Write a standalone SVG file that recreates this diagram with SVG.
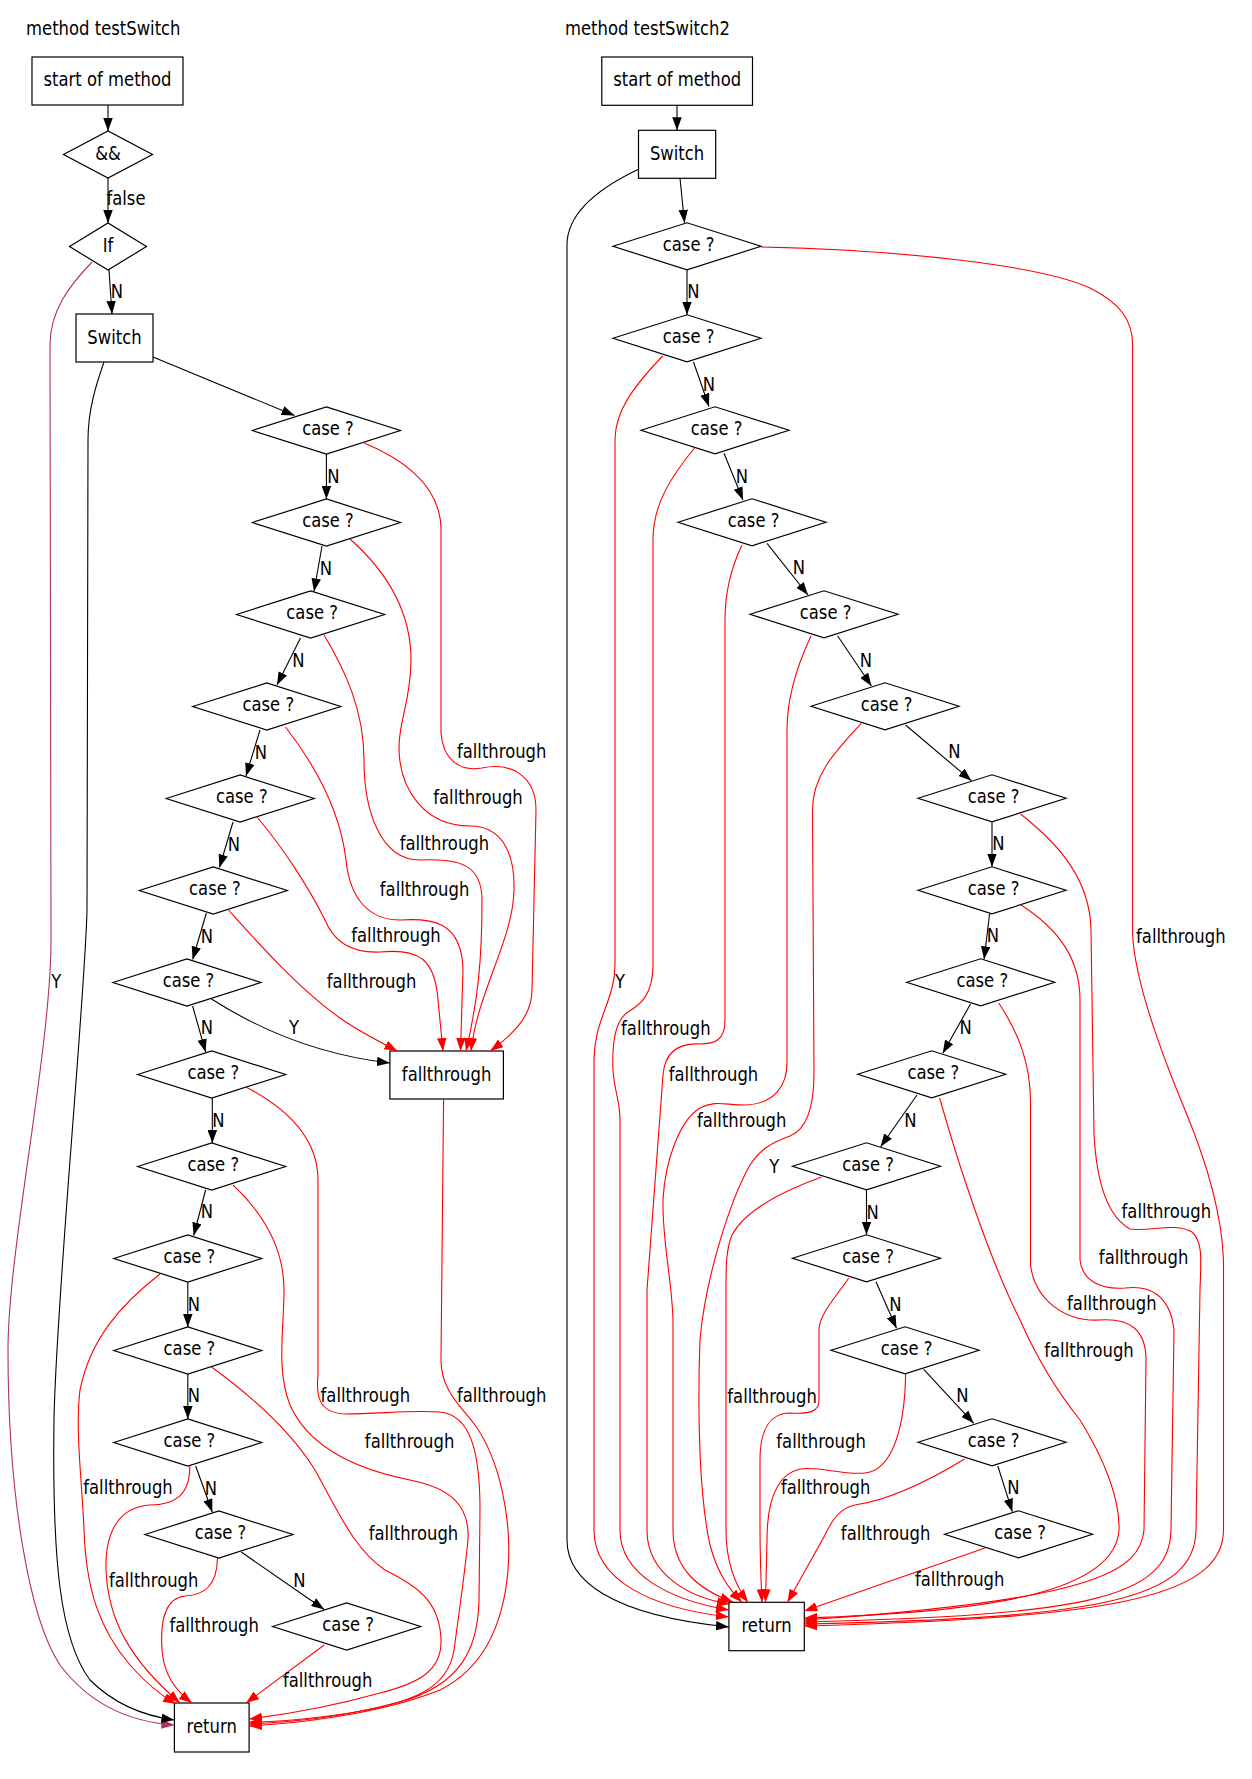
<svg xmlns="http://www.w3.org/2000/svg" width="1252" height="1779" viewBox="0 0 1252 1779">
<style>
text { font-family: "DejaVu Sans", "Liberation Sans", sans-serif; font-size: 19px; text-anchor: middle; fill: #000; transform-box: fill-box; transform-origin: center; transform: scaleX(0.865); }
.n { fill: none; stroke: #000; stroke-width: 1.2; }
.e { fill: none; stroke: #000; stroke-width: 1.1; marker-end: url(#ab); }
.r { fill: none; stroke: #ff0000; stroke-width: 1.1; marker-end: url(#ar); }
.m { fill: none; stroke: #b03060; stroke-width: 1.1; marker-end: url(#am); }
</style>
<defs>
<marker id="ab" viewBox="0 0 13 9.5" refX="13" refY="4.75" markerWidth="13" markerHeight="9.5" markerUnits="userSpaceOnUse" orient="auto"><path d="M0,0 L13,4.75 L0,9.5 z" fill="#000"/></marker>
<marker id="ar" viewBox="0 0 13 9.5" refX="13" refY="4.75" markerWidth="13" markerHeight="9.5" markerUnits="userSpaceOnUse" orient="auto"><path d="M0,0 L13,4.75 L0,9.5 z" fill="#ff0000"/></marker>
<marker id="am" viewBox="0 0 13 9.5" refX="13" refY="4.75" markerWidth="13" markerHeight="9.5" markerUnits="userSpaceOnUse" orient="auto"><path d="M0,0 L13,4.75 L0,9.5 z" fill="#b03060"/></marker>
</defs>
<rect width="1252" height="1779" fill="#fff"/>

<g id="cluster1">
<text x="103.3" y="35.5">method testSwitch</text>
<g id="L_start"><rect class="n" x="32" y="57" width="151" height="48"/><text x="107.5" y="86.5">start of method</text></g>
<g id="L_and"><polygon class="n" points="63.5,154.5 108,131 152.5,154.5 108,178"/><text x="108" y="160">&amp;&amp;</text></g>
<g id="L_if"><polygon class="n" points="69.5,246.5 108,223 146.5,246.5 108,270"/><text x="108" y="252">If</text></g>
<g id="L_switch"><rect class="n" x="76" y="314" width="77" height="48"/><text x="114.5" y="344">Switch</text></g>
<g id="L_c1"><polygon class="n" points="252.4,430.5 326.4,407 400.4,430.5 326.4,454"/><text x="328" y="435.5">case ?</text></g>
<g id="L_c2"><polygon class="n" points="252.4,522.5 326.4,499 400.4,522.5 326.4,546"/><text x="328" y="527.5">case ?</text></g>
<g id="L_c3"><polygon class="n" points="236.6,614.5 310.6,591 384.6,614.5 310.6,638"/><text x="312.2" y="619.5">case ?</text></g>
<g id="L_c4"><polygon class="n" points="192.7,706.5 266.7,683 340.7,706.5 266.7,730"/><text x="268.3" y="711.5">case ?</text></g>
<g id="L_c5"><polygon class="n" points="166.2,798.5 240.2,775 314.2,798.5 240.2,822"/><text x="241.8" y="803.5">case ?</text></g>
<g id="L_c6"><polygon class="n" points="139.3,890.5 213.3,867 287.3,890.5 213.3,914"/><text x="214.9" y="895.5">case ?</text></g>
<g id="L_c7"><polygon class="n" points="112.9,982.5 186.9,959 260.9,982.5 186.9,1006"/><text x="188.5" y="987.5">case ?</text></g>
<g id="L_c8"><polygon class="n" points="137.7,1074.5 211.7,1051 285.7,1074.5 211.7,1098"/><text x="213.3" y="1079.5">case ?</text></g>
<g id="L_c9"><polygon class="n" points="137.7,1166.5 211.7,1143 285.7,1166.5 211.7,1190"/><text x="213.3" y="1171.5">case ?</text></g>
<g id="L_c10"><polygon class="n" points="113.8,1258.5 187.8,1235 261.8,1258.5 187.8,1282"/><text x="189.4" y="1263.5">case ?</text></g>
<g id="L_c11"><polygon class="n" points="113.8,1350.5 187.8,1327 261.8,1350.5 187.8,1374"/><text x="189.4" y="1355.5">case ?</text></g>
<g id="L_c12"><polygon class="n" points="113.8,1442.5 187.8,1419 261.8,1442.5 187.8,1466"/><text x="189.4" y="1447.5">case ?</text></g>
<g id="L_c13"><polygon class="n" points="144.9,1534.5 218.9,1511 292.9,1534.5 218.9,1558"/><text x="220.5" y="1539.5">case ?</text></g>
<g id="L_c14"><polygon class="n" points="272.6,1626.5 346.6,1603 420.6,1626.5 346.6,1650"/><text x="348.2" y="1631.5">case ?</text></g>
<g id="L_fall"><rect class="n" x="389.9" y="1051" width="113.5" height="48"/><text x="446.6" y="1081">fallthrough</text></g>
<g id="L_return"><rect class="n" x="174.4" y="1703" width="74.7" height="49"/><text x="211.7" y="1733.5">return</text></g>
</g>

<g id="cluster2">
<text x="647.4" y="35.5">method testSwitch2</text>
<g id="R_start"><rect class="n" x="601.8" y="57" width="150.7" height="48.3"/><text x="677.2" y="86.5">start of method</text></g>
<g id="R_switch"><rect class="n" x="638.5" y="130.3" width="77.2" height="48"/><text x="677.1" y="160">Switch</text></g>
<g id="R_c1"><polygon class="n" points="613,246.3 687,222.8 761,246.3 687,269.8"/><text x="688.6" y="251.3">case ?</text></g>
<g id="R_c2"><polygon class="n" points="613,338.3 687,314.8 761,338.3 687,361.8"/><text x="688.6" y="343.3">case ?</text></g>
<g id="R_c3"><polygon class="n" points="641,430.3 715,406.8 789,430.3 715,453.8"/><text x="716.6" y="435.3">case ?</text></g>
<g id="R_c4"><polygon class="n" points="678,522.3 752,498.8 826,522.3 752,545.8"/><text x="753.6" y="527.3">case ?</text></g>
<g id="R_c5"><polygon class="n" points="750,614.3 824,590.8 898,614.3 824,637.8"/><text x="825.6" y="619.3">case ?</text></g>
<g id="R_c6"><polygon class="n" points="811,706.3 885,682.8 959,706.3 885,729.8"/><text x="886.6" y="711.3">case ?</text></g>
<g id="R_c7"><polygon class="n" points="918,798.3 992,774.8 1066,798.3 992,821.8"/><text x="993.6" y="803.3">case ?</text></g>
<g id="R_c8"><polygon class="n" points="918,890.3 992,866.8 1066,890.3 992,913.8"/><text x="993.6" y="895.3">case ?</text></g>
<g id="R_c9"><polygon class="n" points="906.7,982.3 980.7,958.8 1054.7,982.3 980.7,1005.8"/><text x="982.3" y="987.3">case ?</text></g>
<g id="R_c10"><polygon class="n" points="857.7,1074.3 931.7,1050.8 1005.7,1074.3 931.7,1097.8"/><text x="933.3" y="1079.3">case ?</text></g>
<g id="R_c11"><polygon class="n" points="792.5,1166.3 866.5,1142.8 940.5,1166.3 866.5,1189.8"/><text x="868.1" y="1171.3">case ?</text></g>
<g id="R_c12"><polygon class="n" points="792.5,1258.3 866.5,1234.8 940.5,1258.3 866.5,1281.8"/><text x="868.1" y="1263.3">case ?</text></g>
<g id="R_c13"><polygon class="n" points="831,1350.3 905,1326.8 979,1350.3 905,1373.8"/><text x="906.6" y="1355.3">case ?</text></g>
<g id="R_c14"><polygon class="n" points="918,1442.3 992,1418.8 1066,1442.3 992,1465.8"/><text x="993.6" y="1447.3">case ?</text></g>
<g id="R_c15"><polygon class="n" points="944.5,1534.3 1018.5,1510.8 1092.5,1534.3 1018.5,1557.8"/><text x="1020.1" y="1539.3">case ?</text></g>
<g id="R_return"><rect class="n" x="728.9" y="1602.3" width="75.4" height="48.4"/><text x="766.6" y="1632.5">return</text></g>
</g>

<g id="connectors">
<!-- left cluster -->
<path class="e" d="M108,105 L108,131"/>
<path class="e" d="M108,178 L108,223"/>
<path class="e" d="M109,270 L112,314"/>
<path class="m" d="M92,262 C70,285 50,310 50,345 L51,940 C51,1050 8,1250 8,1350 C8,1500 30,1620 60,1665 C90,1705 130,1722 174.4,1725"/>
<path class="e" d="M104,362 C96,385 88,410 88,440 L87,910 C85,1000 56,1300 54,1420 C52,1560 60,1640 90,1680 C115,1705 145,1716 174.4,1720"/>
<path class="e" d="M153,357 L294.6,415.5"/>
<path class="e" d="M326.4,454 L326.4,499"/>
<path class="e" d="M322,546 L314,591.5"/>
<path class="e" d="M300.5,638 L277,685"/>
<path class="e" d="M260,730 L246,776"/>
<path class="e" d="M233,822 L219.5,867.5"/>
<path class="e" d="M206.4,913 L192.6,959.5"/>
<path class="e" d="M192.6,1006 L205.6,1052"/>
<path class="e" d="M211.5,999 C260,1030 320,1055 389.9,1063"/>
<path class="e" d="M212.3,1098 L212.3,1143"/>
<path class="e" d="M205.6,1190 L193.7,1235.5"/>
<path class="e" d="M187.8,1282 L187.8,1327"/>
<path class="e" d="M187.8,1374 L187.8,1419"/>
<path class="e" d="M195.7,1466 L212.3,1512"/>
<path class="e" d="M241.2,1552 L324.2,1609.5"/>
<path class="r" d="M363.8,442.7 C410,462 441,490 441,530 L441,733 C443,760 460,772 482,768 C510,762 536,775 536,810 L532,990 C532,1015 515,1033 490.3,1051"/>
<path class="r" d="M350,539 C385,570 411,610 411,660 C411,700 399,720 399,747 C399,790 425,826 470,826 C500,826 515,850 514,890 C513,940 478,990 471,1051"/>
<path class="r" d="M324,635 C345,670 364,710 364,760 C364,810 380,860 420,860 C460,858 482,865 482,900 C482,960 478,1000 466,1051"/>
<path class="r" d="M285.5,727 C315,765 340,810 346,860 C350,900 370,920 400,920 C430,918 462,920 463,970 L460.5,1051"/>
<path class="r" d="M257,817 C285,850 310,890 325,920 C335,945 355,953 380,952 C420,948 435,960 438,1000 L443,1051"/>
<path class="r" d="M228.5,910 C260,945 300,990 340,1018 C360,1032 380,1042 397.4,1051"/>
<path class="r" d="M443.6,1099 L441,1360 C441,1390 460,1405 475,1425 C500,1460 512,1520 508,1570 C503,1630 480,1670 440,1690 C390,1710 320,1722 249.1,1726"/>
<path class="r" d="M246,1087 C290,1110 318,1140 318,1180 L318,1375 C316,1395 318,1413 345,1414 C380,1414 410,1410 440,1412 C470,1415 480,1450 480,1510 L479,1600 C478,1650 460,1685 400,1702 C340,1718 290,1722 249.1,1724"/>
<path class="r" d="M233,1185 C265,1215 284,1250 284,1290 C284,1330 276,1370 290,1405 C310,1450 360,1470 410,1480 C450,1488 470,1505 468,1540 C464,1580 458,1620 454,1650 C448,1690 410,1703 350,1713 C310,1719 280,1722 249.1,1722"/>
<path class="r" d="M211.5,1367 C250,1395 290,1430 315,1470 C340,1515 355,1550 385,1570 C415,1585 440,1600 441,1640 C442,1670 420,1683 380,1693 C330,1707 290,1714 249.1,1719"/>
<path class="r" d="M160,1274 C120,1305 90,1340 80,1390 C75,1430 82,1480 84,1530 C86,1590 100,1630 130,1665 C145,1682 160,1695 176,1704"/>
<path class="r" d="M189.8,1466 C190,1495 175,1505 150,1505 C120,1507 105,1530 106,1570 C108,1620 130,1660 180,1703"/>
<path class="r" d="M217.5,1558 C217,1585 205,1595 185,1596 C165,1598 160,1620 162,1650 C164,1675 175,1690 192,1703"/>
<path class="r" d="M324.2,1645 L246,1703"/>
<!-- right cluster -->
<path class="e" d="M677,105.3 L677,130.3"/>
<path class="e" d="M680,178.3 L684.5,222.8"/>
<path class="e" d="M638.5,169.3 C595,190 567,215 567,245 L567,1540 C567,1580 610,1615 728.9,1627"/>
<path class="e" d="M687,269.8 L687,314.8"/>
<path class="e" d="M693.5,362 L709,406.5"/>
<path class="e" d="M724,453.3 L743,500"/>
<path class="e" d="M767,543.3 L808,595"/>
<path class="e" d="M837.5,635.7 L871.5,686"/>
<path class="e" d="M905.6,725 L971.4,780.7"/>
<path class="e" d="M992,821.8 L992,866.8"/>
<path class="e" d="M989.6,913.8 L984.1,959.3"/>
<path class="e" d="M970.5,1004 L942.8,1053.3"/>
<path class="e" d="M917,1095 L880.6,1146.7"/>
<path class="e" d="M866.5,1189.8 L866.5,1234.8"/>
<path class="e" d="M876,1281.7 L896.5,1328.3"/>
<path class="e" d="M923.7,1369.3 L973.7,1423.3"/>
<path class="e" d="M997.8,1466 L1012.3,1511.7"/>
<path class="r" d="M761,247 C900,250 1040,265 1090,288 C1120,303 1132.6,320 1132.6,345 L1132.6,935 C1135,980 1160,1050 1185,1110 C1210,1170 1222,1220 1223.5,1260 L1223.5,1530 C1223.5,1600 1100,1618 804.3,1626"/>
<path class="r" d="M662.6,356 C635,385 615,410 615,440 L615,965 C615,1000 594,1020 594,1060 L594,1530 C594,1580 650,1608 728.9,1617"/>
<path class="r" d="M694.4,448 C670,478 653,505 653,540 L653,965 C653,995 640,1005 628,1012 C615,1020 612,1045 613,1070 C614,1090 620,1100 620,1120 L620,1530 C620,1575 670,1600 728.9,1610"/>
<path class="r" d="M742,545 C730,570 725,595 725,620 L725,1020 C725,1040 715,1044 700,1044 C680,1043 665,1050 663,1075 L647,1290 L647,1530 C647,1575 690,1598 730,1604"/>
<path class="r" d="M811,636 C795,670 787,700 787,730 L787,1063 C787,1085 775,1104 745,1105 C725,1105 715,1100 700,1108 C680,1120 665,1160 663,1200 C662,1240 672,1280 673,1320 L673,1530 C673,1570 700,1590 733,1602"/>
<path class="r" d="M861.5,723 C835,752 812.5,775 812.5,810 L814,1073 C814,1110 805,1130 790,1136 C770,1143 760,1150 750,1165 C730,1200 705,1280 700,1340 C697,1420 700,1500 710,1545 C718,1575 730,1590 742,1602.3"/>
<path class="r" d="M821.6,1177 C780,1192 745,1210 732,1235 C726,1250 726,1265 726,1290 L726,1530 C726,1560 735,1585 748,1602.3"/>
<path class="r" d="M848.8,1278 C835,1298 819,1315 819,1330 L819,1400 C819,1412 810,1414 790,1413 C770,1413 760,1430 760,1460 L760,1530 C760,1560 761,1580 762,1602.3"/>
<path class="r" d="M905.6,1374 C905,1420 895,1470 865,1473 C840,1475 820,1466 800,1469 C775,1475 767,1505 767,1540 L765.5,1602.3"/>
<path class="r" d="M964.6,1459 C930,1480 890,1500 855,1505 C840,1508 832,1520 825,1535 L787.5,1602.3"/>
<path class="r" d="M985,1548 L804.3,1611"/>
<path class="r" d="M1020.5,814 C1060,845 1090,880 1091,930 L1094,1133 C1096,1175 1105,1215 1130,1229 C1150,1232 1175,1222 1192,1232 C1203,1242 1201,1260 1200,1290 L1196,1530 C1195,1600 1100,1618 804.3,1624"/>
<path class="r" d="M1021,905 C1060,930 1080,960 1080,1000 L1080,1260 C1082,1280 1100,1290 1125,1288 C1150,1285 1170,1295 1174,1330 L1171,1530 C1170,1600 1080,1615 804.3,1622"/>
<path class="r" d="M998.7,1003 C1020,1035 1030,1065 1030.5,1100 L1030.5,1265 C1035,1300 1065,1322 1100,1320 C1130,1318 1146,1330 1146,1360 L1144,1530 C1140,1570 1100,1600 804.3,1620"/>
<path class="r" d="M939.6,1098 C960,1170 990,1260 1020,1320 C1040,1365 1060,1395 1080,1420 C1105,1460 1120,1500 1119,1530 C1115,1590 1000,1612 804.3,1618"/>
</g>

<g id="edge-labels">
<text x="126" y="205.5">false</text>
<text x="117" y="297.7">N</text>
<text x="56.3" y="988">Y</text>
<text x="333.3" y="483.3">N</text>
<text x="326" y="575">N</text>
<text x="298.5" y="666.7">N</text>
<text x="261" y="759">N</text>
<text x="234" y="850.7">N</text>
<text x="207" y="942.7">N</text>
<text x="207" y="1034.3">N</text>
<text x="294" y="1034.3">Y</text>
<text x="218.3" y="1126.7">N</text>
<text x="207" y="1218.3">N</text>
<text x="194" y="1310.7">N</text>
<text x="194" y="1402.3">N</text>
<text x="211" y="1495">N</text>
<text x="299.5" y="1586.7">N</text>
<text x="501.7" y="758">fallthrough</text>
<text x="478" y="804">fallthrough</text>
<text x="444.4" y="850">fallthrough</text>
<text x="424.6" y="896">fallthrough</text>
<text x="396" y="941.7">fallthrough</text>
<text x="371.6" y="988">fallthrough</text>
<text x="501.7" y="1401.7">fallthrough</text>
<text x="365.3" y="1401.7">fallthrough</text>
<text x="409.6" y="1448">fallthrough</text>
<text x="413.5" y="1540">fallthrough</text>
<text x="128" y="1494.3">fallthrough</text>
<text x="153.7" y="1586.7">fallthrough</text>
<text x="214.2" y="1632.3">fallthrough</text>
<text x="327.7" y="1686.7">fallthrough</text>
<text x="693.3" y="298.3">N</text>
<text x="709" y="390.7">N</text>
<text x="742" y="482.7">N</text>
<text x="799" y="574.3">N</text>
<text x="866" y="666.7">N</text>
<text x="954.3" y="758.3">N</text>
<text x="998.5" y="850">N</text>
<text x="993" y="942.3">N</text>
<text x="965.7" y="1034.3">N</text>
<text x="910.4" y="1126.7">N</text>
<text x="872.7" y="1219">N</text>
<text x="895.4" y="1310.7">N</text>
<text x="962.5" y="1402.3">N</text>
<text x="1013.4" y="1494.3">N</text>
<text x="620.2" y="988.3">Y</text>
<text x="774.3" y="1172.7">Y</text>
<text x="1180.8" y="942.7">fallthrough</text>
<text x="665.8" y="1035">fallthrough</text>
<text x="713.5" y="1080.7">fallthrough</text>
<text x="741.7" y="1126.7">fallthrough</text>
<text x="1166.3" y="1218.3">fallthrough</text>
<text x="1143.6" y="1264.3">fallthrough</text>
<text x="1111.8" y="1310">fallthrough</text>
<text x="1089" y="1356.7">fallthrough</text>
<text x="772.1" y="1402.7">fallthrough</text>
<text x="821.1" y="1448.3">fallthrough</text>
<text x="825.7" y="1494.3">fallthrough</text>
<text x="885.6" y="1540">fallthrough</text>
<text x="959.7" y="1586">fallthrough</text>
</g>
</svg>
